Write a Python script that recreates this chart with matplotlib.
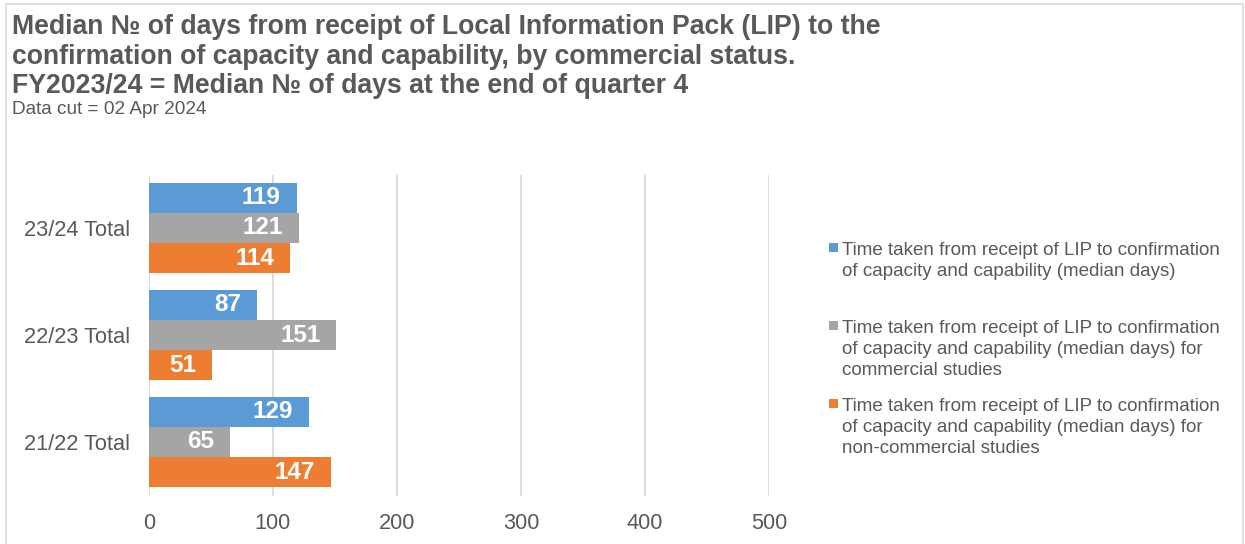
import matplotlib
matplotlib.use("Agg")
import matplotlib.pyplot as plt
from matplotlib.patches import Rectangle

# ---- data ----
categories = ["21/22 Total", "22/23 Total", "23/24 Total"]
overall = [129, 87, 119]
commercial = [65, 151, 121]
non_commercial = [147, 51, 114]
series_labels = [
    "Time taken from receipt of LIP to confirmation\nof capacity and capability (median days)",
    "Time taken from receipt of LIP to confirmation\nof capacity and capability (median days) for\ncommercial studies",
    "Time taken from receipt of LIP to confirmation\nof capacity and capability (median days) for\nnon-commercial studies",
]
x_ticks = [0, 100, 200, 300, 400, 500]
title_lines = [
    "Median № of days from receipt of Local Information Pack (LIP) to the",
    "confirmation of capacity and capability, by commercial status.",
    "FY2023/24 = Median № of days at the end of quarter 4",
]
subtitle = "Data cut = 02 Apr 2024"

colors = ["#5B9BD5", "#A5A5A5", "#ED7D31"]
text_gray = "#595959"
grid_gray = "#D9D9D9"

plt.rcParams['font.family'] = ['Liberation Sans', 'DejaVu Sans']

W, H = 1245, 544
fig = plt.figure(figsize=(W / 100, H / 100), dpi=100)


def fx(px):
    return px / W


def fy(py):
    return 1 - py / H


# outer chart border
fig.patches.append(Rectangle((fx(6), fy(560)), fx(1243) - fx(6), fy(4) - fy(560),
                             transform=fig.transFigure, fill=False,
                             edgecolor=grid_gray, linewidth=1.2))

for line, base in zip(title_lines, [34, 64, 93]):
    fig.text(fx(12), fy(base), line, fontsize=19.2, fontweight='bold',
             color=text_gray, va='baseline', ha='left')
fig.text(fx(12), fy(114), subtitle, fontsize=13.7, color=text_gray,
         va='baseline', ha='left')

# axes
ax = fig.add_axes([fx(149), fy(495.5), fx(769) - fx(149), fy(174.5) - fy(495.5)])
bh = 0.283
ypos = list(range(len(categories)))
offsets = [bh, 0, -bh]
all_series = [overall, commercial, non_commercial]
for vals, off, col in zip(all_series, offsets, colors):
    ys = [y + off for y in ypos]
    ax.barh(ys, vals, height=bh, color=col, zorder=3)
    for y, v in zip(ys, vals):
        ax.annotate(str(v), xy=(v, y), xytext=(-11.5, 0), textcoords='offset points',
                    ha='right', va='center', color='white', fontweight='bold',
                    fontsize=17.5, zorder=4)

ax.set_xlim(0, 500)
ax.set_ylim(-0.5, 2.5)
ax.set_xticks(x_ticks)
ax.set_xticklabels([str(t) for t in x_ticks])
ax.set_yticks(ypos)
ax.set_yticklabels(categories)
ax.tick_params(axis='both', length=0, labelsize=15.7, labelcolor=text_gray)
ax.tick_params(axis='x', pad=12.5)
ax.tick_params(axis='y', pad=13.7)
for sp in ax.spines.values():
    sp.set_visible(False)
ax.grid(axis='x', color=grid_gray, linewidth=1.3, zorder=0)
ax.set_axisbelow(True)
ax.patch.set_alpha(0)

# legend (manual, Excel-style spacing)
leg_tops = [243, 321, 399]
for lab, col, top in zip(series_labels, colors, leg_tops):
    fig.patches.append(Rectangle((fx(829), fy(top + 8.5)), fx(9) - fx(0), fy(0) - fy(9),
                                 transform=fig.transFigure, facecolor=col, edgecolor='none'))
    fig.text(fx(842), fy(top - 1), lab, fontsize=13.5, color=text_gray, va='top', ha='left',
             linespacing=1.32)

fig.savefig("out.png", dpi=100)
